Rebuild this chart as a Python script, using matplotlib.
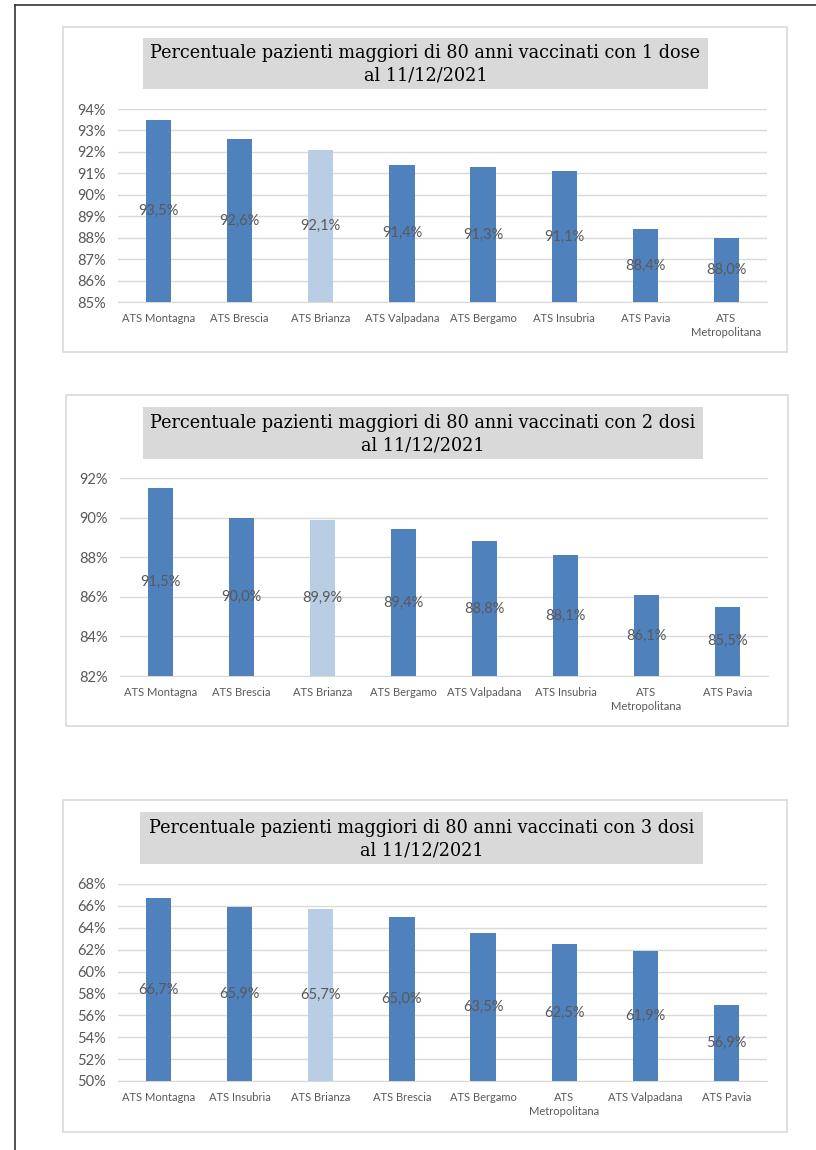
import matplotlib.pyplot as plt
from matplotlib.patches import Rectangle
from matplotlib.lines import Line2D

# dati dei tre grafici
cat1 = ['ATS Montagna', 'ATS Brescia', 'ATS Brianza', 'ATS Valpadana', 'ATS Bergamo',
        'ATS Insubria', 'ATS Pavia', 'ATS\nMetropolitana']
val1 = [93.5, 92.6, 92.1, 91.4, 91.3, 91.1, 88.4, 88.0]

cat2 = ['ATS Montagna', 'ATS Brescia', 'ATS Brianza', 'ATS Bergamo', 'ATS Valpadana',
        'ATS Insubria', 'ATS\nMetropolitana', 'ATS Pavia']
val2 = [91.5, 90.0, 89.9, 89.4, 88.8, 88.1, 86.1, 85.5]

cat3 = ['ATS Montagna', 'ATS Insubria', 'ATS Brianza', 'ATS Brescia', 'ATS Bergamo',
        'ATS\nMetropolitana', 'ATS Valpadana', 'ATS Pavia']
val3 = [66.7, 65.9, 65.7, 65.0, 63.5, 62.5, 61.9, 56.9]

titles = ['Percentuale pazienti maggiori di 80 anni vaccinati con 1 dose\nal 11/12/2021',
          'Percentuale pazienti maggiori di 80 anni vaccinati con 2 dosi\nal 11/12/2021',
          'Percentuale pazienti maggiori di 80 anni vaccinati con 3 dosi\nal 11/12/2021']

W, H = 816, 1150
BLUE = '#4F81BD'
LIGHT = '#B9CDE5'
GREY_TXT = '#595959'
FONT = ['Lato', 'DejaVu Sans']

fig = plt.figure(figsize=(W / 100, H / 100), dpi=100)


def fx(x):
    return x / W


def fy(y):
    return 1 - y / H


# cornice della pagina
fig.add_artist(Line2D([fx(15), fx(15)], [fy(5), fy(1150)], color='#333333', lw=1.2))
fig.add_artist(Line2D([fx(15), fx(816)], [fy(5), fy(5)], color='#333333', lw=1.2))

# (box, title box, plot area, ylim, step)
layout = [
    ((63, 27, 787, 352), (143, 38, 708, 89), (118, 109, 767, 302), (85, 94), 1),
    ((66, 395, 788, 726), (143, 407, 703, 459), (120, 478, 768, 676), (82, 92), 2),
    ((63, 800, 787, 1132), (140, 812, 703, 864), (118, 884, 767, 1081), (50, 68), 2),
]
datasets = [(cat1, val1), (cat2, val2), (cat3, val3)]

for (box, tbox, area, ylim, step), (cats, vals), title in zip(layout, datasets, titles):
    x0, y0, x1, y1 = box
    fig.add_artist(Rectangle((fx(x0), fy(y1)), fx(x1 - x0), (y1 - y0) / H,
                             facecolor='white', edgecolor='#D9D9D9', lw=1.2, zorder=-2))
    tx0, ty0, tx1, ty1 = tbox
    fig.add_artist(Rectangle((fx(tx0), fy(ty1)), fx(tx1 - tx0), (ty1 - ty0) / H,
                             facecolor='#D9D9D9', edgecolor='none', zorder=-1))
    fig.text(fx((tx0 + tx1) / 2), fy((ty0 + ty1) / 2 + 1), title, ha='center', va='center',
             fontsize=12.7, family='DejaVu Serif', color='black', linespacing=1.35)

    ax0, ay0, ax1, ay1 = area
    ax = fig.add_axes([fx(ax0), fy(ay1), fx(ax1 - ax0), (ay1 - ay0) / H])
    x = range(len(cats))
    colors = [LIGHT if c == 'ATS Brianza' else BLUE for c in cats]
    ax.bar(x, [v - ylim[0] for v in vals], bottom=ylim[0], width=0.31,
           color=colors, zorder=3)
    for xi, v in zip(x, vals):
        ax.text(xi, (v + ylim[0]) / 2, f'{v:.1f}%'.replace('.', ','), ha='center',
                va='center', fontsize=10.5, color=GREY_TXT, family=FONT, zorder=4)
    ax.set_xlim(-0.5, len(cats) - 0.5)
    ax.set_ylim(*ylim)
    ticks = list(range(ylim[0], ylim[1] + 1, step))
    ax.set_yticks(ticks)
    ax.set_yticklabels([f'{t}%' for t in ticks], fontsize=10.5, color=GREY_TXT, family=FONT)
    ax.set_xticks(list(x))
    ax.set_xticklabels(cats, fontsize=8, color=GREY_TXT, family=FONT, linespacing=1.3)
    ax.tick_params(length=0, axis='y', pad=9)
    ax.tick_params(length=0, axis='x', pad=8)
    ax.grid(axis='y', color='#D9D9D9', lw=1, zorder=0)
    for s in ['top', 'right', 'left']:
        ax.spines[s].set_visible(False)
    ax.spines['bottom'].set_color('#D9D9D9')
    ax.set_facecolor('none')

fig.savefig('out.png', dpi=100)
